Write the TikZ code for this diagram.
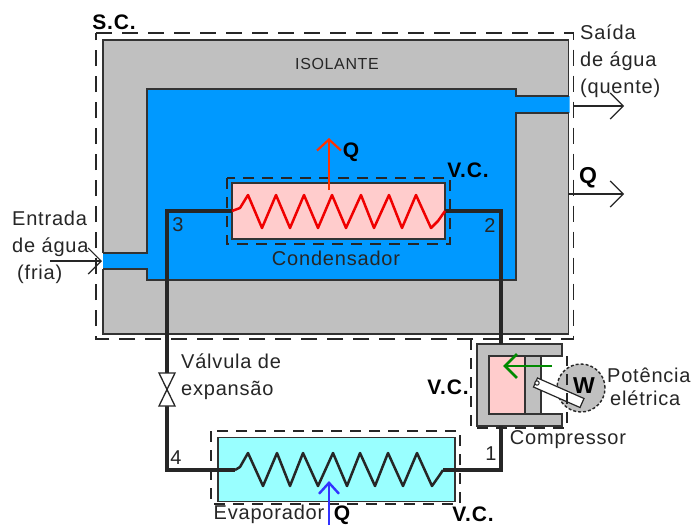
\documentclass[tikz,border=0pt]{standalone}
\usepackage{fontspec}
\setmainfont{Liberation Sans}[LetterSpace=4]
\usetikzlibrary{arrows.meta}
\definecolor{ink}{HTML}{262626}
\definecolor{edgegrey}{HTML}{333333}
\definecolor{insul}{HTML}{C0C0C0}
\definecolor{water}{HTML}{0099FF}
\definecolor{pinkbox}{HTML}{FFCCCC}
\definecolor{cyanbox}{HTML}{99FFFF}
\definecolor{redline}{HTML}{F00000}
\definecolor{redarrow}{HTML}{FF3300}
\definecolor{bluearrow}{HTML}{3333FF}
\definecolor{greenarrow}{HTML}{008A00}
\tikzset{
  wall/.style={draw=edgegrey,line width=1.8pt},
  scline/.style={draw=ink,line width=1.5pt,dash pattern=on 16pt off 10pt},
  vcline/.style={draw=ink,line width=1.4pt,dash pattern=on 11pt off 8pt},
  pipe/.style={draw=black!85,line width=3.2pt},
  openhead/.style={-{Straight Barb[length=13pt,width=26pt,line width=1.2pt]},line width=1.2pt,draw=ink},
  lab/.style={font=\fontsize{20}{27}\selectfont,text=ink,inner sep=0pt,align=center},
  boldlab/.style={font=\fontsize{21}{24}\selectfont\bfseries,text=black,inner sep=0pt},
  hx/.style={draw=edgegrey,line width=1.8pt,inner sep=0pt},
}
\begin{document}
\begin{tikzpicture}[x=1pt,y=-1pt]
\useasboundingbox[fill=white] (0,0) rectangle (696,525);
% insulation
\fill[insul] (103,40) rectangle (568.5,334);
\draw[wall] (103,253) -- (103,40) -- (568.5,40) -- (568.5,96);
\draw[wall] (568.5,113) -- (568.5,334) -- (103,334) -- (103,269);
% water
\fill[water] (103,253) -- (147,253) -- (147,89) -- (516,89) -- (516,96) -- (569.5,96) -- (569.5,113) -- (516,113) -- (516,280) -- (147,280) -- (147,269) -- (103,269) -- cycle;
\draw[wall] (103,253) -- (147,253) -- (147,89) -- (516,89) -- (516,96) -- (568.5,96);
\draw[wall] (568.5,113) -- (516,113) -- (516,280) -- (147,280) -- (147,269) -- (103,269);
% control surfaces
\draw[scline] (96,33) -- (573.5,33) -- (573.5,339) -- (96,339) -- cycle;
% heat exchanger boxes
\node[hx,fill=pinkbox,minimum width=213pt,minimum height=56pt] (cond) at (338.5,211) {};
\node[hx,fill=cyanbox,minimum width=237pt,minimum height=64pt] (evap) at (336.5,469.5) {};
\draw[vcline] (227,178) rectangle (450,244);
\draw[vcline] (211,431) rectangle (460,504);
% compressor
\fill[insul] (562,344) -- (477,344) -- (477,426) -- (562,426) -- (562,414) -- (489,414) -- (489,356) -- (562,356) -- cycle;
\draw[wall] (562,344) -- (477,344) -- (477,426) -- (562,426) -- (562,414) -- (489,414) -- (489,356) -- (562,356) -- cycle;
\node[draw=edgegrey,line width=1.5pt,fill=pinkbox,inner sep=0pt,minimum width=36pt,minimum height=58pt] (chamber) at (507,385) {};
\node[draw=edgegrey,line width=1.5pt,fill=insul,inner sep=0pt,minimum width=16pt,minimum height=58pt] (piston) at (533,385) {};
\node[circle,draw=ink,densely dashed,line width=1.4pt,fill=insul,minimum size=48pt,inner sep=0pt] (motor) at (581,388) {};
\draw[draw=ink,line width=1.2pt,fill=white] (537.5,378) -- (584,398.5) -- (580,407.5) -- (533.5,387) -- cycle;
\fill[white,draw=ink,line width=1pt] (537,383) circle (2.2);
\node[font=\fontsize{23}{24}\selectfont\bfseries,text=black,inner sep=0pt] (wlabel) at (584,386) {W};
\draw[vcline] (471,339) -- (471,428) -- (567,428) -- (567,356);
% pipes
\coordinate (cl) at (232,211);
\coordinate (cr) at (445,211);
\coordinate (el) at (235,470);
\coordinate (er) at (443,470);
\coordinate (compin) at (501,426);
\coordinate (compout) at (501,344);
\coordinate (vt) at (167,373);
\coordinate (vb) at (167,406);
\draw[pipe] (cl) -- (167,211) -- (vt);
\draw[pipe] (vb) -- (167,470) -- (el);
\draw[pipe] (cr) -- (501,211) -- (compout);
\draw[pipe] (er) -- (501,470) -- (compin);
% valve
\node[inner sep=0pt,minimum size=1pt] (valve) at (167,389.5) {};
\draw[draw=ink,line width=1.3pt,fill=white] (159,373) -- (175,373) -- (159,406) -- (175,406) -- cycle;
% coils
\draw[redline,line width=2.5pt,line join=round] (cl) -- (240,208) -- (248,195) -- (262,228) -- (276,195) -- (290,228) -- (304,195) -- (318,228) -- (332,195) -- (346,228) -- (361,195) -- (374,228) -- (389,195) -- (402,228) -- (416,195) -- (431,228) -- (438,221) -- (cr);
\draw[black!85,line width=2.5pt,line join=round] (el) -- (240,467) -- (248,453) -- (263,486) -- (277,453) -- (290,486) -- (303,453) -- (318,486) -- (333,453) -- (347,486) -- (360,453) -- (375,486) -- (388,453) -- (403,486) -- (417,453) -- (432,486) -- (439,476) -- (er);
% heat arrows
\coordinate (qup1) at (329,190);
\coordinate (qup2) at (329,138);
\coordinate (qin1) at (329,525);
\coordinate (qin2) at (329,481);
\draw[redarrow,line width=2.4pt,-{Straight Barb[length=11pt,width=24pt,line width=2.2pt]}] (qup1) -- (qup2);
\draw[bluearrow,line width=2.8pt,-{Straight Barb[length=11pt,width=20pt,line width=2.4pt]}] (qin1) -- (qin2);
\coordinate (pa1) at (552,366);
\coordinate (pa2) at (503,366);
\draw[greenarrow,line width=2.8pt,-{Straight Barb[length=12pt,width=24pt,line width=2.8pt]}] (pa1) -- (pa2);
% water and heat flows
\coordinate (ea) at (50,261);
\coordinate (eb) at (102,261);
\coordinate (sa) at (574,106);
\coordinate (sb) at (624,106);
\coordinate (qa) at (568,194);
\coordinate (qb) at (624,194);
\draw[openhead] (ea) -- (eb);
\draw[openhead] (sa) -- (sb);
\draw[openhead] (qa) -- (qb);
% labels
\node[boldlab] (sc) at (114,22) {S.C.};
\node[lab,font=\fontsize{16}{20}\selectfont] (isol) at (337,64) {ISOLANTE};
\node[lab,align=left,anchor=west] (ent) at (12,247) {Entrada\\de água\\\hspace*{5pt}(fria)};
\node[lab,align=left,anchor=west] (sai) at (580,61) {Saída\\de água\\(quente)};
\node[boldlab] (q1) at (351,152) {Q};
\node[boldlab,font=\fontsize{23}{24}\selectfont\bfseries] (q2) at (588,178) {Q};
\node[boldlab] (vc1) at (468,170) {V.C.};
\node[lab] (condl) at (336,258) {Condensador};
\node[lab] (n3) at (178,225) {3};
\node[lab] (n2) at (490,226) {2};
\node[lab] (n4) at (176,458) {4};
\node[lab] (n1) at (491,454) {1};
\node[lab,align=left,anchor=west] (valv) at (181,377) {Válvula de\\expansão};
\node[boldlab] (vc2) at (448,387) {V.C.};
\node[lab] (comp) at (568,440) {Compressor};
\node[lab,align=left,anchor=west,font=\fontsize{20}{23}\selectfont] (pot) at (607,387) {Potência\\\hspace*{3pt}elétrica};
\node[lab] (evl) at (269,514) {Evaporador};
\node[boldlab] (q3) at (342,515) {Q};
\node[boldlab] (vc3) at (473,514) {V.C.};
\end{tikzpicture}
\end{document}
